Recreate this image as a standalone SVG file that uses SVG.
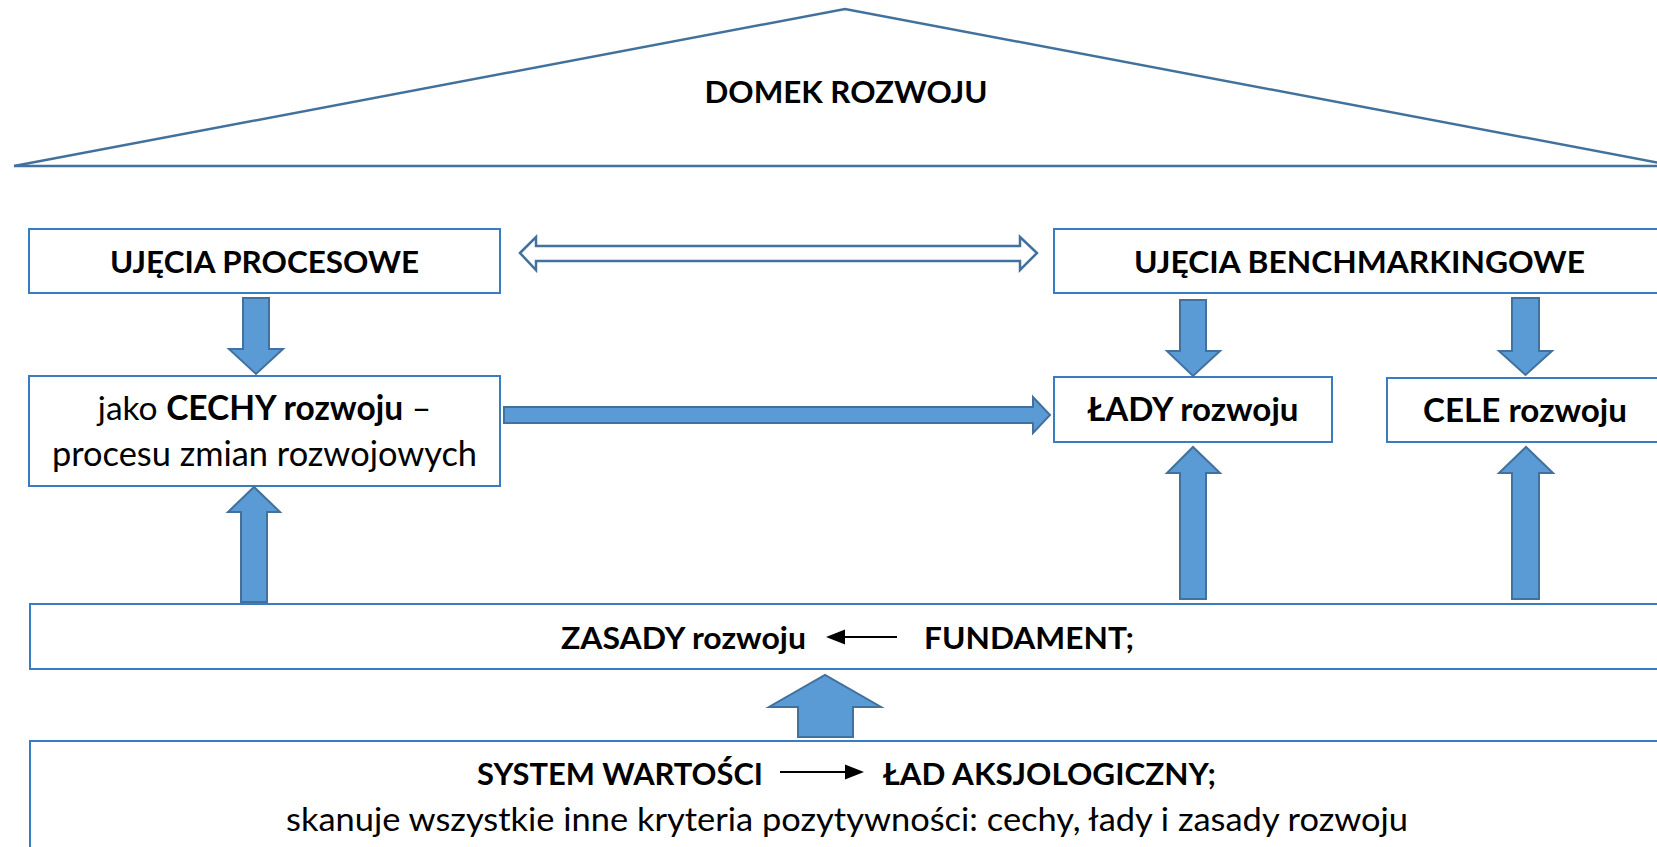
<svg xmlns="http://www.w3.org/2000/svg" width="1657" height="847" viewBox="0 0 1657 847">
<style>
  .roof{fill:none;stroke:#41719C;stroke-width:2.5;stroke-linejoin:miter}
  .box{fill:#FFFFFF;stroke:#3A7CC0;stroke-width:2}
  .blk{fill:#5B9BD5;stroke:#41719C;stroke-width:2;stroke-linejoin:miter}
  .hollow{fill:#FFFFFF;stroke:#41719C;stroke-width:2.5;stroke-linejoin:miter}
  .thin{stroke:#000000;stroke-width:2;fill:none}
  .head{fill:#000000;stroke:none}
  text{font-family:Lato,"Liberation Sans",sans-serif;fill:#000000;text-anchor:middle}
  .b{font-weight:bold}
</style>
<rect width="1657" height="847" fill="#FFFFFF"/>

<g id="roof">
  <polyline class="roof" points="14,166 845,9 1676,166"/>
  <line class="roof" x1="14" y1="166" x2="1676" y2="166"/>
  <text class="b" x="846" y="103" font-size="31" textLength="283" lengthAdjust="spacingAndGlyphs">DOMEK ROZWOJU</text>
</g>

<g id="ujecia-procesowe">
  <rect class="box" x="29" y="229" width="471" height="64"/>
  <text class="b" x="264.5" y="273" font-size="31" textLength="309" lengthAdjust="spacingAndGlyphs">UJĘCIA PROCESOWE</text>
</g>

<g id="ujecia-benchmarkingowe">
  <rect class="box" x="1054" y="229" width="612" height="64"/>
  <text class="b" x="1359.5" y="273" font-size="31" textLength="451" lengthAdjust="spacingAndGlyphs">UJĘCIA BENCHMARKINGOWE</text>
</g>

<g id="cechy">
  <rect class="box" x="29" y="376" width="471" height="110"/>
  <text x="264.5" y="420" font-size="33.5">jako <tspan class="b">CECHY rozwoju</tspan> –</text>
  <text x="264.5" y="466" font-size="34" textLength="425" lengthAdjust="spacingAndGlyphs">procesu zmian rozwojowych</text>
</g>

<g id="lady">
  <rect class="box" x="1054" y="377" width="278" height="65"/>
  <text class="b" x="1193" y="421" font-size="32" textLength="211" lengthAdjust="spacingAndGlyphs">ŁADY rozwoju</text>
</g>

<g id="cele">
  <rect class="box" x="1387" y="378" width="278" height="64"/>
  <text class="b" x="1525" y="422" font-size="32" textLength="204" lengthAdjust="spacingAndGlyphs">CELE rozwoju</text>
</g>

<g id="zasady">
  <rect class="box" x="30" y="604" width="1634" height="65"/>
  <text class="b" x="683.5" y="649" font-size="31" textLength="245" lengthAdjust="spacingAndGlyphs">ZASADY rozwoju</text>
  <text class="b" x="1029" y="649" font-size="31" textLength="210" lengthAdjust="spacingAndGlyphs">FUNDAMENT;</text>
  <line class="thin" x1="897" y1="637" x2="840" y2="637"/>
  <polygon class="head" points="826,637 845,629.5 845,644.5"/>
</g>

<g id="system">
  <rect class="box" x="30" y="741" width="1634" height="130"/>
  <text class="b" x="620" y="785" font-size="30" textLength="286" lengthAdjust="spacingAndGlyphs">SYSTEM WARTOŚCI</text>
  <text class="b" x="1049.5" y="785" font-size="30" textLength="333" lengthAdjust="spacingAndGlyphs">ŁAD AKSJOLOGICZNY;</text>
  <line class="thin" x1="780" y1="772" x2="850" y2="772"/>
  <polygon class="head" points="864,772 845,764.5 845,779.5"/>
  <text x="847" y="831" font-size="33" textLength="1122" lengthAdjust="spacingAndGlyphs">skanuje wszystkie inne kryteria pozytywności: cechy, łady i zasady rozwoju</text>
</g>

<g id="connectors">
  <polygon class="hollow" points="520,253 536,237 536,246 1020,246 1020,237 1037,253 1020,270 1020,261 536,261 536,270"/>
  <polygon class="blk" points="243,298 269,298 269,349 283,349 256,374 229,349 243,349"/>
  <polygon class="blk" points="241,602 267,602 267,512 280,512 254,487 228,512 241,512"/>
  <polygon class="blk" points="504,407 1033,407 1033,397 1050,415 1033,433 1033,423 504,423"/>
  <polygon class="blk" points="1180,300 1206,300 1206,351 1220,351 1193,376 1167,351 1180,351"/>
  <polygon class="blk" points="1180,599 1206,599 1206,473 1220,473 1193,447 1167,473 1180,473"/>
  <polygon class="blk" points="1512,298 1539,298 1539,351 1552,351 1525.5,375 1499,351 1512,351"/>
  <polygon class="blk" points="1512,599 1539,599 1539,473 1553,473 1526,447 1499,473 1512,473"/>
  <polygon class="blk" points="798,737 853,737 853,707 881,707 825,675 769,707 798,707"/>
</g>
</svg>
